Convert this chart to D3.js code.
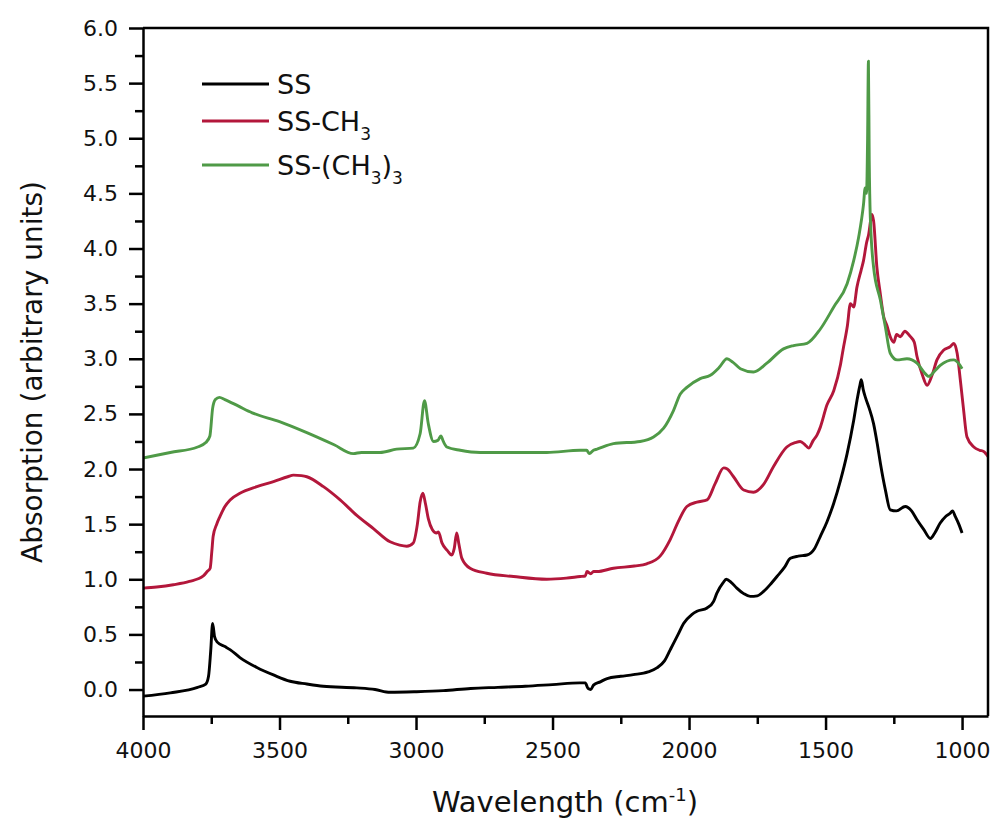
<!DOCTYPE html>
<html>
<head>
<meta charset="utf-8">
<script src="https://cdn.jsdelivr.net/npm/d3@7"></script>
<style>
  body { margin: 0; background: #fff; }
  svg text { font-family: "DejaVu Sans", Verdana, sans-serif; fill: #111; }
</style>
</head>
<body>
<svg id="ftir-chart" width="992" height="821"></svg>
<script>
// wavenumbers (cm-1) and absorption
var wnSS = [4000, 3900, 3800, 3770, 3760, 3752, 3745, 3738, 3728, 3700, 3680, 3645, 3583, 3520, 3461, 3400, 3340, 3217, 3150, 3095, 3000, 2900, 2800, 2700, 2600, 2500, 2400, 2380, 2370, 2360, 2350, 2325, 2300, 2250, 2204, 2150, 2118, 2090, 2069, 2040, 2020, 1990, 1971, 1934, 1910, 1898, 1875, 1864, 1845, 1825, 1800, 1776, 1750, 1727, 1700, 1678, 1650, 1629, 1600, 1568, 1540, 1519, 1495, 1470, 1445, 1421, 1397, 1385, 1375, 1369, 1362, 1354, 1340, 1324, 1310, 1299, 1280, 1263, 1240, 1208, 1185, 1165, 1140, 1116, 1100, 1080, 1060, 1043, 1035, 1025, 1012, 1000];
var absSS = [-0.06, -0.03, 0.02, 0.05, 0.12, 0.35, 0.60, 0.48, 0.43, 0.39, 0.36, 0.29, 0.20, 0.13, 0.075, 0.05, 0.03, 0.015, 0.0, -0.025, -0.02, -0.01, 0.01, 0.02, 0.03, 0.045, 0.06, 0.06, 0.01, 0.0, 0.04, 0.07, 0.10, 0.12, 0.135, 0.16, 0.196, 0.26, 0.36, 0.50, 0.60, 0.68, 0.71, 0.74, 0.80, 0.875, 0.97, 1.0, 0.97, 0.92, 0.87, 0.845, 0.85, 0.89, 0.96, 1.025, 1.11, 1.19, 1.21, 1.22, 1.28, 1.39, 1.52, 1.69, 1.90, 2.14, 2.44, 2.62, 2.75, 2.81, 2.72, 2.65, 2.55, 2.41, 2.22, 2.05, 1.80, 1.63, 1.62, 1.66, 1.62, 1.54, 1.45, 1.37, 1.42, 1.51, 1.57, 1.60, 1.62, 1.57, 1.50, 1.42];

var wnCH3 = [4000, 3950, 3889, 3830, 3779, 3765, 3754, 3748, 3743, 3730, 3718, 3700, 3681, 3645, 3583, 3522, 3470, 3449, 3420, 3400, 3339, 3278, 3217, 3156, 3095, 3060, 3034, 3010, 2995, 2985, 2975, 2965, 2955, 2940, 2925, 2918, 2905, 2885, 2869, 2860, 2851, 2843, 2832, 2802, 2741, 2643, 2521, 2450, 2399, 2380, 2374, 2360, 2350, 2337, 2277, 2200, 2155, 2106, 2069, 2040, 2008, 1971, 1934, 1904, 1873, 1860, 1837, 1800, 1764, 1727, 1691, 1642, 1610, 1593, 1575, 1562, 1545, 1531, 1519, 1495, 1470, 1445, 1436, 1420, 1409, 1397, 1385, 1370, 1361, 1350, 1342, 1330, 1324, 1312, 1300, 1287, 1275, 1263, 1250, 1240, 1226, 1210, 1189, 1175, 1165, 1145, 1128, 1110, 1092, 1067, 1043, 1030, 1018, 1006, 995, 982, 957, 935, 921, 904];
var absCH3 = [0.92, 0.93, 0.95, 0.98, 1.03, 1.07, 1.10, 1.25, 1.39, 1.50, 1.57, 1.66, 1.72, 1.78, 1.84, 1.885, 1.93, 1.945, 1.94, 1.93, 1.84, 1.72, 1.58, 1.46, 1.34, 1.31, 1.30, 1.33, 1.50, 1.70, 1.78, 1.68, 1.55, 1.45, 1.42, 1.43, 1.33, 1.26, 1.22, 1.28, 1.42, 1.32, 1.19, 1.10, 1.055, 1.025, 1.00, 1.01, 1.025, 1.03, 1.07, 1.05, 1.07, 1.07, 1.10, 1.12, 1.14, 1.21, 1.36, 1.52, 1.66, 1.70, 1.72, 1.87, 2.01, 2.00, 1.93, 1.81, 1.79, 1.86, 2.02, 2.20, 2.24, 2.25, 2.22, 2.19, 2.26, 2.31, 2.38, 2.58, 2.71, 2.95, 3.08, 3.30, 3.50, 3.47, 3.65, 3.80, 3.89, 4.05, 4.13, 4.31, 4.25, 3.83, 3.60, 3.38, 3.30, 3.20, 3.15, 3.22, 3.20, 3.25, 3.20, 3.15, 3.02, 2.85, 2.76, 2.85, 2.99, 3.08, 3.11, 3.14, 3.05, 2.80, 2.55, 2.29, 2.20, 2.17, 2.16, 2.11];

var wnCH33 = [4000, 3900, 3800, 3770, 3755, 3745, 3735, 3720, 3700, 3650, 3600, 3500, 3400, 3300, 3230, 3200, 3132, 3071, 3010, 2985, 2969, 2955, 2936, 2920, 2909, 2900, 2887, 2838, 2765, 2643, 2521, 2399, 2375, 2365, 2350, 2337, 2277, 2179, 2130, 2093, 2057, 2032, 2008, 1959, 1922, 1890, 1861, 1840, 1812, 1764, 1715, 1654, 1617, 1568, 1519, 1470, 1421, 1397, 1379, 1361, 1355, 1350, 1346, 1343, 1340, 1336, 1324, 1299, 1281, 1263, 1238, 1202, 1165, 1140, 1122, 1100, 1080, 1031, 1010, 1000];
var absCH33 = [2.10, 2.15, 2.20, 2.24, 2.30, 2.55, 2.63, 2.65, 2.63, 2.57, 2.51, 2.43, 2.33, 2.22, 2.14, 2.15, 2.15, 2.18, 2.19, 2.32, 2.62, 2.41, 2.25, 2.26, 2.30, 2.25, 2.20, 2.17, 2.15, 2.15, 2.15, 2.17, 2.17, 2.14, 2.17, 2.18, 2.23, 2.25, 2.29, 2.37, 2.53, 2.68, 2.74, 2.82, 2.85, 2.92, 3.00, 2.97, 2.91, 2.88, 2.96, 3.09, 3.12, 3.14, 3.27, 3.47, 3.68, 3.89, 4.10, 4.40, 4.55, 4.50, 5.00, 5.70, 4.80, 4.28, 3.83, 3.53, 3.29, 3.05, 2.99, 3.00, 2.96, 2.88, 2.84, 2.89, 2.94, 2.99, 2.95, 2.91];

var seriesNames = ["SS", "SS-CH3", "SS-(CH3)3"];
var seriesColors = ["#000000", "#b3173b", "#4f9a47"];

var xMajor = [4000, 3500, 3000, 2500, 2000, 1500, 1000];
var xMinor = [3750, 3250, 2750, 2250, 1750, 1250];
var yMajor = [0, 0.5, 1, 1.5, 2, 2.5, 3, 3.5, 4, 4.5, 5, 5.5, 6];
var yMinor = [0.25, 0.75, 1.25, 1.75, 2.25, 2.75, 3.25, 3.75, 4.25, 4.75, 5.25, 5.75];

function drawSpectra() {
  var margin = {top: 28, right: 4, bottom: 105, left: 143};
  var svg = d3.select("#ftir-chart");
  var width = +svg.attr("width") - margin.left - margin.right;
  var height = +svg.attr("height") - margin.top - margin.bottom;

  var x = d3.scaleLinear().domain([4000, 905]).range([0, width]);
  var y = d3.scaleLinear().domain([-0.24, 6.0]).range([height, 0]);

  var g = svg.append("g")
      .attr("transform", "translate(" + margin.left + "," + margin.top + ")");

  g.append("clipPath").attr("id", "plot-clip")
    .append("rect").attr("width", width).attr("height", height);

  var series = [
    d3.zip(wnSS, absSS),
    d3.zip(wnCH3, absCH3),
    d3.zip(wnCH33, absCH33)
  ];

  var line = d3.line()
      .x(function(d) { return x(d[0]); })
      .y(function(d) { return y(d[1]); })
      .curve(d3.curveMonotoneX);

  // spectra
  g.append("g").attr("clip-path", "url(#plot-clip)")
    .selectAll("path")
    .data(series)
    .join("path")
      .attr("fill", "none")
      .attr("stroke", function(d, i) { return seriesColors[i]; })
      .attr("stroke-width", 2.9)
      .attr("stroke-linejoin", "round")
      .attr("d", line);

  // frame on top and right
  g.append("path")
      .attr("d", "M0,0H" + width + "V" + height)
      .attr("fill", "none")
      .attr("stroke", "#000")
      .attr("stroke-width", 2.5);

  // x axis with minor ticks
  g.append("g")
      .attr("transform", "translate(0," + height + ")")
      .call(d3.axisBottom(x).tickValues(xMajor).tickFormat(d3.format("d"))
        .tickSize(14).tickSizeOuter(0).tickPadding(12));
  g.append("g")
      .attr("transform", "translate(0," + height + ")")
      .call(d3.axisBottom(x).tickValues(xMinor).tickFormat("").tickSize(8).tickSizeOuter(0))
      .select(".domain").remove();

  // y axis with minor ticks
  g.append("g")
      .call(d3.axisLeft(y).tickValues(yMajor).tickFormat(d3.format(".1f"))
        .tickSize(14).tickSizeOuter(0).tickPadding(11));
  g.append("g")
      .call(d3.axisLeft(y).tickValues(yMinor).tickFormat("").tickSize(8).tickSizeOuter(0))
      .select(".domain").remove();

  g.selectAll(".domain, .tick line")
      .attr("stroke", "#000")
      .attr("stroke-width", 2.5);
  g.selectAll(".tick text")
      .attr("font-family", "DejaVu Sans, Verdana, sans-serif")
      .attr("font-size", 22)
      .attr("fill", "#111");

  // axis titles
  var xTitle = svg.append("text")
      .attr("x", margin.left + 422)
      .attr("y", 812)
      .attr("text-anchor", "middle")
      .attr("font-size", 29);
  xTitle.append("tspan").text("Wavelength (cm");
  xTitle.append("tspan").attr("dy", -11).attr("font-size", 18).text("-1");
  xTitle.append("tspan").attr("dy", 11).text(")");

  svg.append("text")
      .attr("transform", "rotate(-90)")
      .attr("x", -(margin.top + height / 2))
      .attr("y", 42)
      .attr("text-anchor", "middle")
      .attr("font-size", 28)
      .text("Absorption (arbitrary units)");

  // legend
  var legend = svg.append("g").attr("transform", "translate(202,84)");
  var rows = legend.selectAll("g")
    .data(seriesNames)
    .join("g")
      .attr("transform", function(d, i) { return "translate(0," + [0, 37, 81][i] + ")"; });

  rows.append("line")
      .attr("x1", 0).attr("x2", 67)
      .attr("stroke", function(d, i) { return seriesColors[i]; })
      .attr("stroke-width", 3);

  rows.append("text")
      .attr("x", 75)
      .attr("y", 10)
      .attr("font-size", 27)
      .each(function(d) {
        var t = d3.select(this);
        // the 3s are subscripts; the piece after one moves back up
        var shift = 0;
        d.split(/(3)/).forEach(function(part) {
          if (part === "") return;
          if (part === "3") {
            t.append("tspan").attr("dy", 9 - shift).attr("font-size", 17).text("3");
            shift = 9;
          } else {
            t.append("tspan").attr("dy", -shift).text(part);
            shift = 0;
          }
        });
      });
}

drawSpectra();
</script>
</body>
</html>
